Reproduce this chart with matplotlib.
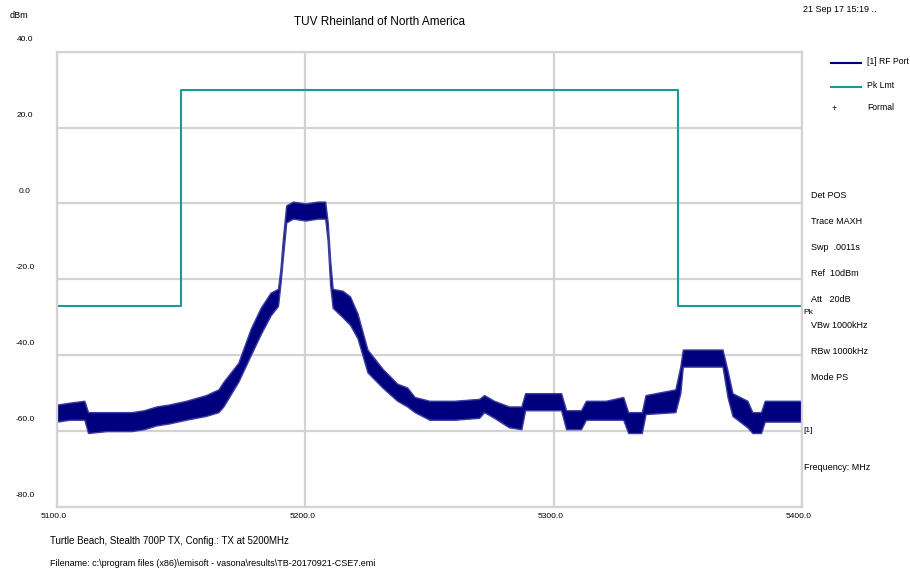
import matplotlib.pyplot as plt

# trace envelope (MHz, dBm)
freq = [5100, 5105, 5111, 5112.5, 5120, 5130, 5135, 5140, 5145, 5152, 5160, 5165,
        5167, 5173, 5178, 5182, 5186, 5189, 5190, 5191, 5192.3, 5195, 5200, 5205,
        5208, 5209, 5210, 5211, 5215, 5218, 5221, 5225, 5231, 5237, 5241, 5244,
        5250, 5260, 5270, 5272, 5276, 5282, 5287, 5288.5, 5303, 5305, 5311, 5313,
        5321, 5328, 5330, 5335.5, 5337, 5349, 5351, 5352, 5368, 5370, 5372, 5378,
        5380, 5383.5, 5385, 5400]
trace_hi = [-53, -52.5, -52, -55, -55, -55, -54.5, -53.5, -53, -52, -50.5, -49,
            -47, -42, -33, -27.5, -23.5, -22.5, -17, -9, -0.5, 0.5, 0, 0.5,
            0.5, -5, -15, -22.5, -23, -24.5, -29, -38.5, -43.5, -47.5, -48.5, -51,
            -52, -52, -51.5, -50.5, -52, -53.5, -53.5, -50, -50, -54.5, -54.5, -52,
            -52, -51, -55, -55, -50.5, -49, -43, -38.5, -38.5, -44, -50, -52,
            -55, -55, -52, -52]
trace_lo = [-57.5, -57, -57, -60.5, -60, -60, -59.5, -58.5, -58, -57, -56, -55,
            -53.5, -47, -40, -34.5, -29.5, -27, -21, -14, -5, -4, -4.5, -4,
            -4, -10, -21.5, -27.5, -30, -32, -35.5, -44.5, -48.5, -52, -53.5, -55,
            -57, -57, -56.5, -55, -56.5, -59, -59.5, -54.5, -54.5, -59.5, -59.5, -57,
            -57, -57, -60.5, -60.5, -55.5, -55, -50, -43, -43, -51, -56, -59,
            -60.5, -60.5, -57.5, -57.5]

# peak limit line
lim_freq = [5100, 5150, 5350, 5400]
lim_level = [-27, 30, -27, -27]

x_ticks = [5100, 5200, 5300, 5400]
y_ticks = [40, 20, 0, -20, -40, -60, -80]

settings = ['Det POS', 'Trace MAXH', 'Swp  .0011s', 'Ref  10dBm', 'Att   20dB',
            'VBw 1000kHz', 'RBw 1000kHz', 'Mode PS']

W, H = 910, 575
narrow = ['Liberation Sans Narrow', 'Liberation Sans', 'DejaVu Sans']

def ftext(x, y, s, **kw):
    # place text using pixel coords measured from the top left
    kw.setdefault('fontsize', 6.5)
    kw.setdefault('va', 'center')
    fig.text(x / W, 1 - y / H, s, family=narrow, color='black', **kw)

fig = plt.figure(figsize=(9.1, 5.75), dpi=100)
ax = fig.add_axes([57 / W, 1 - 507 / H, 745 / W, 455.3 / H])

ax.fill_between(freq, trace_lo, trace_hi, color='#00007f', lw=1.0, edgecolor='#3c3ca0')
ax.step(lim_freq, lim_level, where='post', color='#1a9a96', lw=1.5)

ax.set_xlim(5100, 5400)
ax.set_ylim(-80, 40)
ax.set_xticks(x_ticks)
ax.set_yticks(y_ticks)
ax.grid(True, color='#d3d3d3', lw=1.6)
ax.set_axisbelow(True)
ax.tick_params(length=0, labelbottom=False, labelleft=False)
for sp in ax.spines.values():
    sp.set_color('#d3d3d3')
    sp.set_linewidth(1.6)

for v in y_ticks:
    ax.annotate(f'{v:.1f}', xy=(0, v), xycoords=('axes fraction', 'data'),
                xytext=(-32, 12), textcoords='offset pixels', ha='center', va='center',
                fontsize=6, family=narrow)
for v in x_ticks:
    ax.annotate(f'{v:.1f}', xy=(v, 0), xycoords=('data', 'axes fraction'),
                xytext=(-3, -10), textcoords='offset pixels', ha='center', va='center',
                fontsize=6, family=narrow)

ftext(380, 22, 'TUV Rheinland of North America', fontsize=8.5, ha='center')
ftext(10, 15, 'dBm')
ftext(803, 10, '21 Sep 17 15:19 ..')

# legend on the right
fig.add_artist(plt.Line2D([831 / W, 861 / W], [1 - 63 / H] * 2, color='#00007f', lw=1.5))
fig.add_artist(plt.Line2D([831 / W, 861 / W], [1 - 87 / H] * 2, color='#1a9a96', lw=1.5))
ftext(834, 109, '+', ha='center')
ftext(867, 62, '[1] RF Port', fontsize=6.2)
ftext(867, 86, 'Pk Lmt', fontsize=6.2)
ftext(867, 108, 'Formal', fontsize=6.2)

for i, s in enumerate(settings):
    ftext(811, 196 + i * 26, s)
ftext(803, 313, 'Pk', fontsize=6)
ftext(803, 431, '[1]', fontsize=6)
ftext(804, 467, 'Frequency: MHz')

ftext(50, 541, 'Turtle Beach, Stealth 700P TX, Config.: TX at 5200MHz', fontsize=7)
ftext(50, 564, 'Filename: c:\\program files (x86)\\emisoft - vasona\\results\\TB-20170921-CSE7.emi', fontsize=6.5)

fig.savefig('out.png', dpi=100)
